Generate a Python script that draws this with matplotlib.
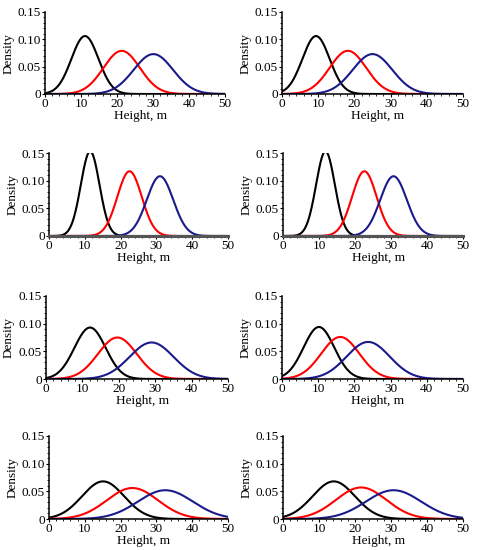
import numpy as np
import matplotlib
matplotlib.use("Agg")
import matplotlib.pyplot as plt
from matplotlib.ticker import MultipleLocator

plt.rcParams['font.family'] = ['Liberation Serif', 'DejaVu Serif']

# peak position (m) and peak density of each curve, panels left->right, top->bottom
black_peak_x = [11.1, 9.4, 11.5, 11.8, 12.1, 10.2, 15.1, 14.1]
black_peak_y = [0.106, 0.106, 0.153, 0.153, 0.093, 0.094, 0.068, 0.068]
red_peak_x = [21.3, 18.2, 22.5, 22.6, 19.6, 16.1, 23.3, 21.7]
red_peak_y = [0.079, 0.079, 0.117, 0.117, 0.075, 0.076, 0.056, 0.057]
blue_peak_x = [30.1, 25.0, 31.0, 30.7, 29.0, 23.8, 32.5, 30.7]
blue_peak_y = [0.073, 0.073, 0.108, 0.108, 0.066, 0.067, 0.052, 0.052]

y_ticks = [0, 0.05, 0.10, 0.15]
y_tick_labels = ["0", "0.05", "0.10", "0.15"]

# axes boxes in pixels: left, right, top, bottom
boxes = [
    (45, 225, 12, 94), (282, 463, 12, 94),
    (49, 228, 153, 236), (283, 463, 153, 236),
    (46, 228, 296, 379), (282, 463, 296, 379),
    (49, 228, 436, 519), (283, 463, 436, 519),
]

W, H = 481, 550
fig = plt.figure(figsize=(W / 100, H / 100), dpi=100)

x = np.linspace(0, 50, 500)


def density(peak_x, peak_y):
    sd = 1 / (peak_y * np.sqrt(2 * np.pi))
    return peak_y * np.exp(-0.5 * ((x - peak_x) / sd) ** 2)


for i, (l, r, t, b) in enumerate(boxes):
    ax = fig.add_axes([l / W, 1 - b / H, (r - l) / W, (b - t) / H])
    ax.plot(x, density(black_peak_x[i], black_peak_y[i]), color='black', lw=1.5)
    ax.plot(x, density(red_peak_x[i], red_peak_y[i]), color='#ff0000', lw=1.5)
    ax.plot(x, density(blue_peak_x[i], blue_peak_y[i]), color='#1a1a8c', lw=1.5)
    ax.set_xlim(0, 50)
    ax.set_ylim(0, 0.15)
    for s in ['top', 'right']:
        ax.spines[s].set_visible(False)
    ax.spines['left'].set_linewidth(1.1)
    if i in (2, 3):
        ax.spines['bottom'].set_linewidth(2.2)
        ax.spines['bottom'].set_color('#555555')
    else:
        ax.spines['bottom'].set_linewidth(1.1)
    ax.set_yticks(y_ticks)
    ax.set_yticklabels(y_tick_labels)
    ax.xaxis.set_major_locator(MultipleLocator(10))
    ax.xaxis.set_minor_locator(MultipleLocator(2))
    ax.yaxis.set_minor_locator(MultipleLocator(0.01))
    ax.tick_params(which='major', length=2.5, width=0.8, labelsize=9.5, pad=0.5, direction='out')
    ax.tick_params(which='minor', length=1.3, width=0.6, direction='out')
    ax.set_xlabel("Height, m", fontsize=9.5)
    ax.set_ylabel("Density", fontsize=9.5)
    ax.xaxis.set_label_coords(0.53, -0.19)
    ax.yaxis.set_label_coords(-0.17, 0.5)

fig.savefig("out.png", dpi=100)
